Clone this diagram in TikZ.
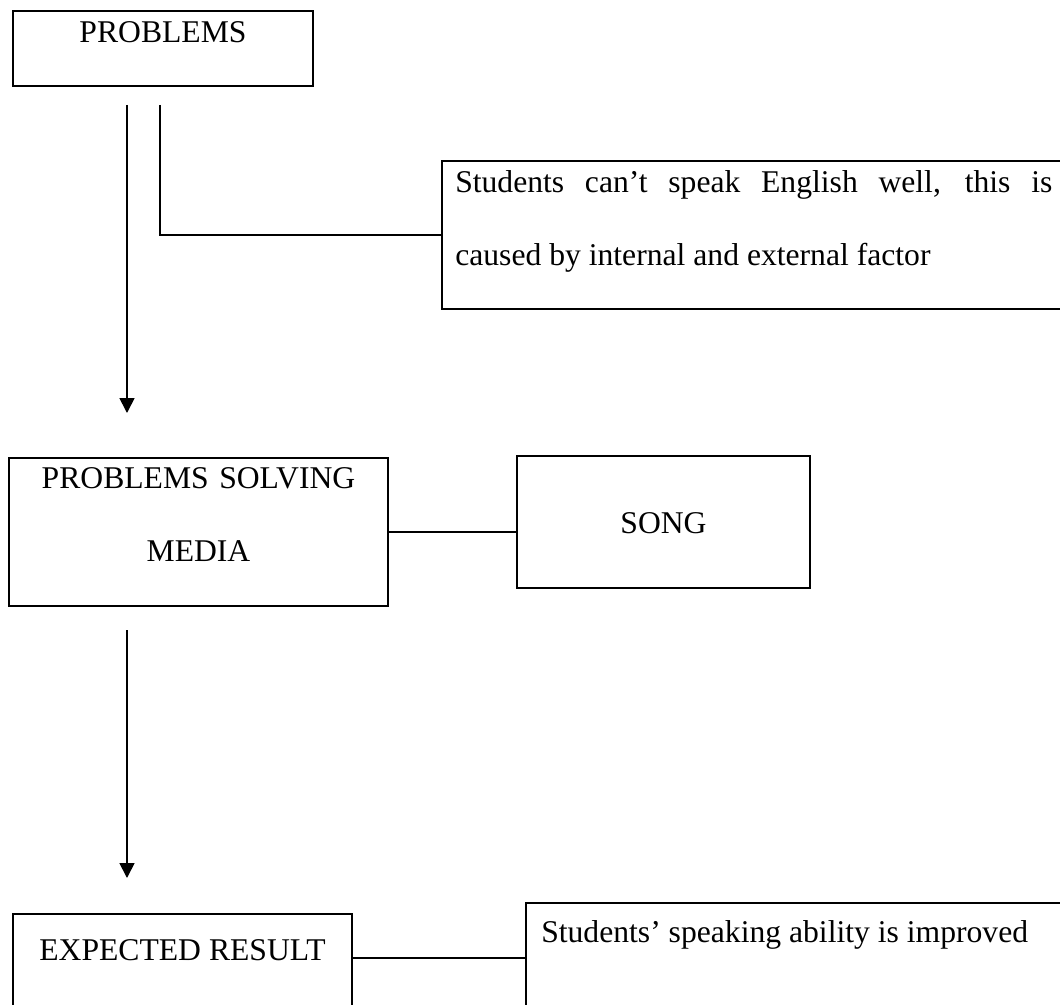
\documentclass[tikz,border=0pt]{standalone}
\usepackage{fontspec}
\setmainfont{Liberation Serif}
\usetikzlibrary{arrows.meta}

\begin{document}
\begin{tikzpicture}[x=0.025cm, y=-0.025cm,
  box/.style={draw, line width=1.5pt, inner sep=0pt},
  txt/.style={inner sep=0pt, font=\fontsize{22.5}{52}\selectfont},
  line/.style={line width=1.2pt},
  arr/.style={line width=1.2pt, -{Triangle[length=10.5pt,width=10.5pt]}}]
\useasboundingbox (0,0) rectangle (1060,1005);

% problems
\node[box, minimum width=7.5cm, minimum height=1.875cm] (prob) at (163,48.5) {};
\node[txt, anchor=base] (probtxt) at (163,43) {PROBLEMS};

% cause of the problem
\node[box, minimum width=15.65cm, minimum height=3.7cm] (stud) at (755,235) {};
\node[txt, anchor=base west, text width=424.6pt, align=justify] (studtxt) at (455,192)
  {Students can’t speak English well, this is\linebreak caused by internal and external factor};

% problems solving media
\node[box, minimum width=9.475cm, minimum height=3.7cm] (psm) at (198.5,532) {};
\node[txt, anchor=base, text width=9cm, align=center] (psmtxt) at (198.5,488)
  {PROBLEMS SOLVING\\ MEDIA};

% song
\node[box, minimum width=7.325cm, minimum height=3.3cm] (song) at (663.5,522) {};
\node[txt, anchor=base] (songtxt) at (663.5,533) {SONG};

% expected result
\node[box, minimum width=8.475cm, minimum height=2.65cm] (exp) at (182.5,967) {};
\node[txt, anchor=base] (exptxt) at (182.5,960) {EXPECTED RESULT};

% result
\node[box, minimum width=13.55cm, minimum height=2.75cm] (res) at (797,958) {};
\node[txt, anchor=base west] (restxt) at (541,942) {Students’ speaking ability is improved};

% connectors
\coordinate (a1s) at (127,105);
\coordinate (a1e) at (127,413);
\coordinate (l1s) at (160,105);
\coordinate (a2s) at (127,630);
\coordinate (a2e) at (127,878);
\draw[arr] (a1s) -- (a1e);
\draw[line] (l1s) |- (stud.west);
\draw[line] (psm.east) -- (psm.east -| song.west);
\draw[arr] (a2s) -- (a2e);
\draw[line] (exp.east |- res.west) -- (res.west);
\end{tikzpicture}
\end{document}
